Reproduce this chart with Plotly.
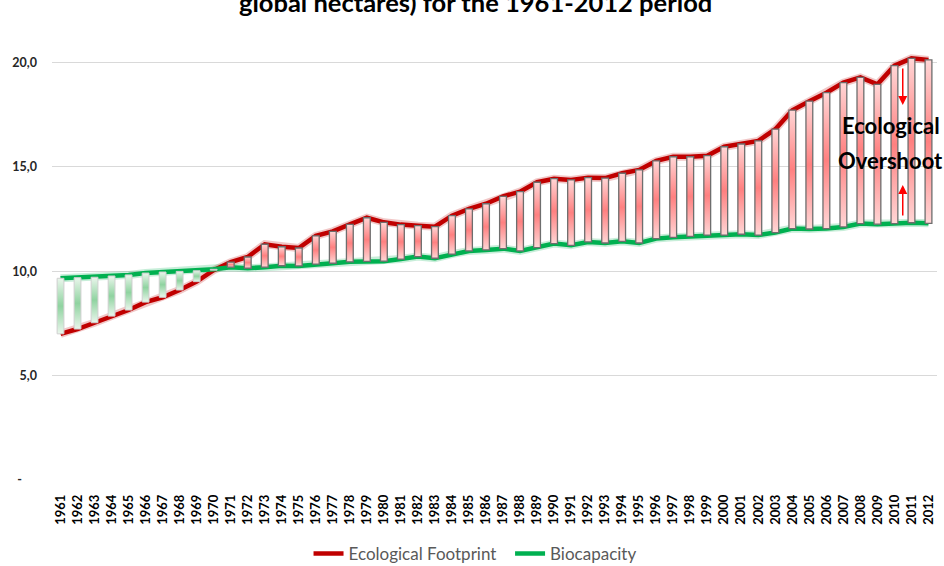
import plotly.graph_objects as go

years = [str(y) for y in range(1961, 2013)]
footprint = [7.00, 7.23, 7.53, 7.85, 8.14, 8.52, 8.75, 9.10, 9.50, 10.05,
             10.43, 10.68, 11.29, 11.17, 11.11, 11.69, 11.91, 12.24, 12.56, 12.34,
             12.23, 12.18, 12.13, 12.66, 12.98, 13.23, 13.58, 13.81, 14.26, 14.43,
             14.37, 14.48, 14.46, 14.69, 14.85, 15.28, 15.48, 15.48, 15.53, 15.96,
             16.09, 16.24, 16.80, 17.71, 18.14, 18.55, 19.03, 19.28, 18.95, 19.84,
             20.19, 20.12]
biocapacity = [9.66, 9.69, 9.71, 9.77, 9.82, 9.91, 9.96, 9.99, 10.02, 10.09,
               10.19, 10.14, 10.19, 10.26, 10.25, 10.34, 10.38, 10.45, 10.47, 10.48,
               10.58, 10.70, 10.62, 10.82, 10.97, 11.02, 11.08, 10.97, 11.13, 11.32,
               11.24, 11.40, 11.35, 11.43, 11.35, 11.56, 11.62, 11.67, 11.73, 11.73,
               11.77, 11.73, 11.85, 12.04, 12.02, 12.04, 12.12, 12.28, 12.25, 12.28,
               12.32, 12.29]
ytick_vals = [0, 5, 10, 15, 20]
ytick_text = ["-\u00a0\u00a0\u00a0\u00a0\u00a0", "5,0", "10,0", "15,0", "20,0"]

idx = list(range(len(years)))
RED = "#C00000"
GREEN = "#00B050"
half = 0.2
FONT = "Lato, Carlito, Calibri, Liberation Sans, sans-serif"
NBSP = "\u00a0"

fig = go.Figure()

# soft glow under the lines
fig.add_trace(go.Scatter(x=idx, y=footprint, mode="lines",
                         line=dict(color="rgba(192,0,0,0.22)", width=8),
                         showlegend=False, hoverinfo="skip"))
fig.add_trace(go.Scatter(x=idx, y=biocapacity, mode="lines",
                         line=dict(color="rgba(0,176,80,0.22)", width=8),
                         showlegend=False, hoverinfo="skip"))
fig.add_trace(go.Scatter(x=idx, y=footprint, mode="lines",
                         name="Ecological Footprint" + NBSP * 2,
                         line=dict(color=RED, width=4.5)))
fig.add_trace(go.Scatter(x=idx, y=biocapacity, mode="lines", name="Biocapacity",
                         line=dict(color=GREEN, width=4.5)))

# up/down bars with vertical gradient
for i, (ef, bc) in enumerate(zip(footprint, biocapacity)):
    lo, hi = min(ef, bc), max(ef, bc)
    if bc > ef:
        cs = [[0, "#EAF6EC"], [0.5, "#8FD3A0"], [1, "#EAF6EC"]]
        border = dict(color="#CFCFCF", width=1)
    else:
        cs = [[0, "#FFD6D6"], [0.5, "#FF8080"], [1, "#FFD6D6"]]
        border = dict(color="#6E6E6E", width=1.3)
    fig.add_trace(go.Scatter(
        x=[i - half, i + half, i + half, i - half, i - half],
        y=[lo, lo, hi, hi, lo],
        mode="lines", fill="toself",
        fillgradient=dict(type="vertical", colorscale=cs),
        line=border, showlegend=False, hoverinfo="skip"))

fig.update_layout(
    width=944, height=566,
    margin=dict(l=52, r=7, t=44, b=86, autoexpand=False),
    paper_bgcolor="white", plot_bgcolor="white",
    font=dict(family=FONT),
    showlegend=True,
    legend=dict(orientation="h", x=0.478, xanchor="center",
                yref="container", y=1 - 554 / 566, yanchor="middle",
                font=dict(size=17, color="#595959", family=FONT), traceorder="normal"),
    xaxis=dict(range=[-0.5, len(years) - 0.5], tickmode="array", tickvals=idx,
               ticktext=years, tickangle=-90, showgrid=False, zeroline=False,
               showline=False, ticks="", ticklabelstandoff=11, automargin=False,
               tickfont=dict(size=13, color="black", family=FONT, weight="bold")),
    yaxis=dict(range=[0, 20.88], tickmode="array", tickvals=ytick_vals, ticktext=ytick_text,
               showgrid=True, gridcolor="#D9D9D9", gridwidth=1, zeroline=False,
               showline=False, ticks="", ticklabelstandoff=14, automargin=False,
               tickfont=dict(size=12.5, color="#262626", family=FONT, weight="bold")),
    annotations=[
        dict(text="<b>global hectares) for the 1961-2012 period</b>", xref="paper", yref="paper",
             x=0.478, y=1 + 42 / 436, xanchor="center", yanchor="middle", showarrow=False,
             font=dict(size=25.5, color="black", family=FONT)),
        dict(text="<b>Ecological</b>", xref="paper", yref="y", x=0.9477, y=17.0,
             xanchor="center", yanchor="middle", showarrow=False,
             font=dict(size=22, color="black", family=FONT)),
        dict(text="<b>Overshoot</b>", xref="paper", yref="y", x=0.9477, y=15.29,
             xanchor="center", yanchor="middle", showarrow=False,
             font=dict(size=22, color="black", family=FONT)),
        dict(text="", xref="paper", yref="y", x=0.9613, y=17.96, ax=0, ay=-38,
             showarrow=True, arrowhead=2, arrowsize=1.2, arrowwidth=1.5, arrowcolor="#FF0000"),
        dict(text="", xref="paper", yref="y", x=0.9613, y=14.13, ax=0, ay=32,
             showarrow=True, arrowhead=2, arrowsize=1.2, arrowwidth=1.5, arrowcolor="#FF0000"),
    ],
)

fig.write_html("out.html", config={"displayModeBar": False},
               post_script="document.body.style.margin='0px';document.body.style.overflow='hidden';")
